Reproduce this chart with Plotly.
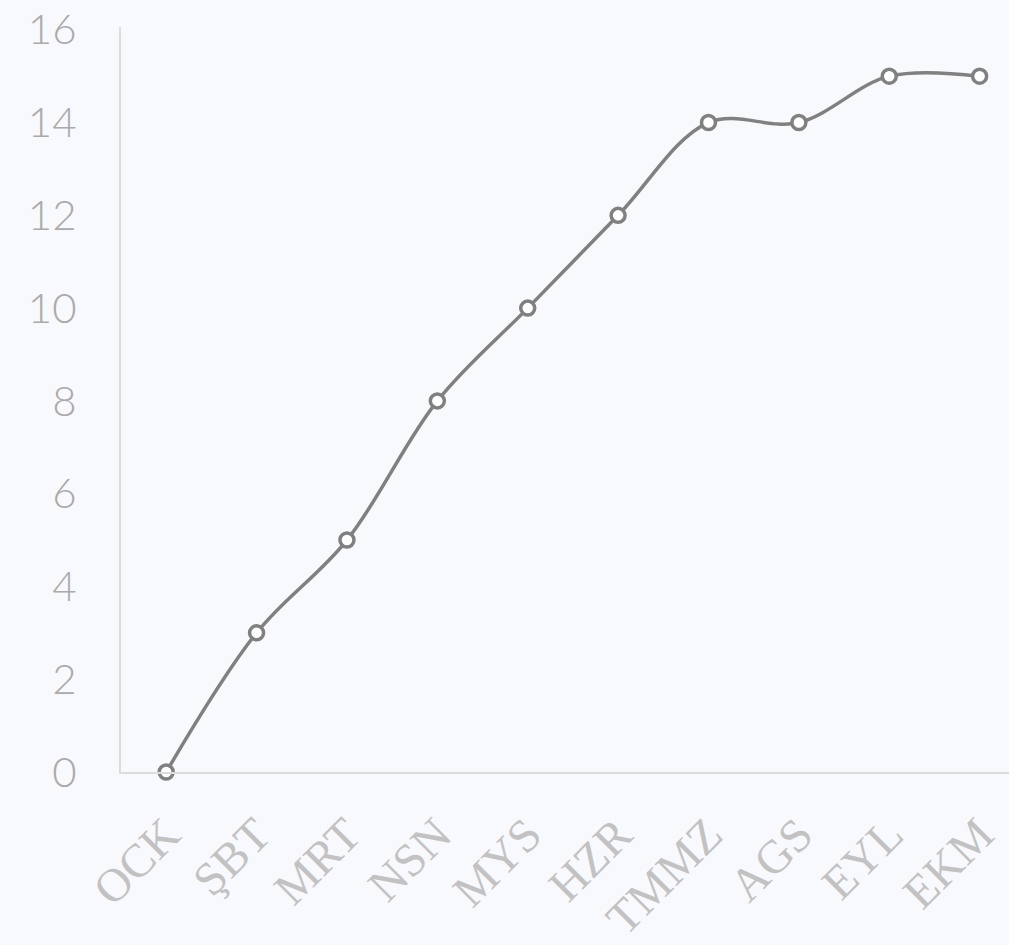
import plotly.graph_objects as go

months = ["OCK", "ŞBT", "MRT", "NSN", "MYS", "HZR", "TMMZ", "AGS", "EYL", "EKM"]
values = [0, 3, 5, 8, 10, 12, 14, 14, 15, 15]
y_ticks = [0, 2, 4, 6, 8, 10, 12, 14, 16]

fig = go.Figure(go.Scatter(
    x=list(range(len(months))), y=values,
    mode="lines+markers",
    line=dict(color="#808080", width=3.5, shape="spline", smoothing=1),
    marker=dict(size=14, color="white", line=dict(color="#808080", width=3.5)),
    cliponaxis=False,
))

fig.update_layout(
    width=1009, height=945,
    margin=dict(l=121, r=0, t=27, b=173),
    paper_bgcolor="#f8f9fd", plot_bgcolor="#f8f9fd",
    showlegend=False,
)
fig.update_xaxes(
    range=[-0.5, 9.325],
    tickmode="array", tickvals=list(range(len(months))), ticktext=months,
    tickangle=-45,
    tickfont=dict(family="Liberation Serif", size=47, color="#c2c2c2"),
    showgrid=False, zeroline=False,
    showline=True, linecolor="#dcdcdc", linewidth=2,
    ticks="", ticklabelstandoff=14,
)
fig.update_yaxes(
    range=[0, 16.06],
    tickmode="array", tickvals=y_ticks,
    tickfont=dict(family="Lato", size=42, color="#aaaaaa", weight=300),
    showgrid=False, zeroline=False,
    showline=True, linecolor="#dcdcdc", linewidth=2,
    ticks="", ticklabelstandoff=34,
)

fig.write_html(
    "out.html",
    config={"displayModeBar": False},
    post_script="document.body.style.margin='0';document.body.style.background='#f8f9fd';",
)
